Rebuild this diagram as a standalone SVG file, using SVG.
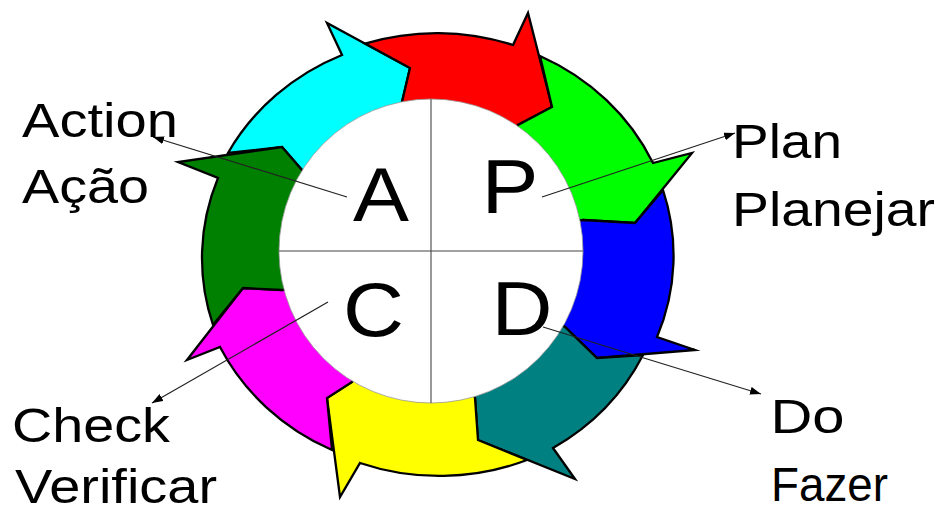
<svg xmlns="http://www.w3.org/2000/svg" width="939" height="506" viewBox="0 0 939 506">
<style>
.seg{stroke:#000;stroke-width:2.3;stroke-linejoin:miter;stroke-miterlimit:6}
.lbl{font-family:"Liberation Sans",Arial,sans-serif;font-size:48px;fill:#000}
.big{font-family:"Liberation Sans",Arial,sans-serif;font-size:76px;fill:#000}
.ptr{stroke:#222;stroke-width:1.2;fill:none;marker-end:url(#ah)}
.div{stroke:#444;stroke-width:1.1}
</style>
<defs>
<marker id="ah" markerUnits="userSpaceOnUse" markerWidth="12" markerHeight="8" refX="11" refY="4" orient="auto">
<path d="M0,0 L11,4 L0,8 Z" fill="#000"/>
</marker>
</defs>
<rect width="939" height="506" fill="#fff"/>
<g id="ring">
<path id="seg-cyan" class="seg" fill="#00FFFF" d="M228,153 A235,221 0 0 1 342,55 L327,23 L410,68 L402,102 L431,251 L302,170 L282,147 Z"/>
<path id="seg-red" class="seg" fill="#FF0000" d="M365,43.6 A235,221 0 0 1 513,45 L528,13 L552,107 L518,125 L431,251 L402,102 L410,68 Z"/>
<path id="seg-green" class="seg" fill="#00FF00" d="M540,56 A235,221 0 0 1 653,163 L692,153 L635,223 L583,220 L431,251 L518,125 L552,107 Z"/>
<path id="seg-blue" class="seg" fill="#0000FF" d="M663,190 A235,221 0 0 1 657,337 L695,350 L597,358 L565,327 L431,251 L583,220 L635,223 Z"/>
<path id="seg-teal" class="seg" fill="#008080" d="M643,355 A235,221 0 0 1 553,448 L575,479 L478,440 L475,398 L431,251 L565,327 L597,358 Z"/>
<path id="seg-yellow" class="seg" fill="#FFFF00" d="M527,460 A235,221 0 0 1 360,463 L340,497 L327,398 L352,382 L431,251 L475,398 L478,440 Z"/>
<path id="seg-magenta" class="seg" fill="#FF00FF" d="M332,450 A235,221 0 0 1 220,347 L187,360 L243,288 L282,290 L431,251 L352,382 L327,398 Z"/>
<path id="seg-dkgreen" class="seg" fill="#008000" d="M213,325 A235,221 0 0 1 218,178 L178,162 L282,147 L302,170 L431,251 L282,290 L243,288 Z"/>
</g>
<g id="center">
<circle cx="431" cy="251" r="152" fill="#fff" stroke="#999" stroke-width="0.8"/>
<line class="div" x1="431" y1="99" x2="431" y2="403"/>
<line class="div" x1="279" y1="251" x2="583" y2="251"/>
</g>
<g id="node-A"><text class="big" x="353" y="221" textLength="56" lengthAdjust="spacingAndGlyphs">A</text></g>
<g id="node-P"><text class="big" x="481.5" y="213" textLength="57" lengthAdjust="spacingAndGlyphs">P</text></g>
<g id="node-C"><text class="big" x="343" y="336" textLength="61" lengthAdjust="spacingAndGlyphs">C</text></g>
<g id="node-D"><text class="big" x="491.5" y="335" textLength="61" lengthAdjust="spacingAndGlyphs">D</text></g>
<g id="connectors">
<line class="ptr" x1="347" y1="197" x2="153" y2="137"/>
<line class="ptr" x1="542" y1="197" x2="735" y2="133"/>
<line class="ptr" x1="328" y1="302" x2="152" y2="403"/>
<line class="ptr" x1="543" y1="327" x2="761" y2="394"/>
</g>
<g id="label-action">
<text class="lbl" x="22" y="137" textLength="156" lengthAdjust="spacingAndGlyphs">Action</text>
<text class="lbl" x="22" y="203" textLength="127" lengthAdjust="spacingAndGlyphs">Ação</text>
</g>
<g id="label-plan">
<text class="lbl" x="732" y="158" textLength="110" lengthAdjust="spacingAndGlyphs">Plan</text>
<text class="lbl" x="732" y="226" textLength="203" lengthAdjust="spacingAndGlyphs">Planejar</text>
</g>
<g id="label-check">
<text class="lbl" x="12" y="442" textLength="158" lengthAdjust="spacingAndGlyphs">Check</text>
<text class="lbl" x="15" y="503" textLength="202" lengthAdjust="spacingAndGlyphs">Verificar</text>
</g>
<g id="label-do">
<text class="lbl" x="770.5" y="433" textLength="74" lengthAdjust="spacingAndGlyphs">Do</text>
<text class="lbl" x="771" y="501" textLength="117" lengthAdjust="spacingAndGlyphs">Fazer</text>
</g>
</svg>
